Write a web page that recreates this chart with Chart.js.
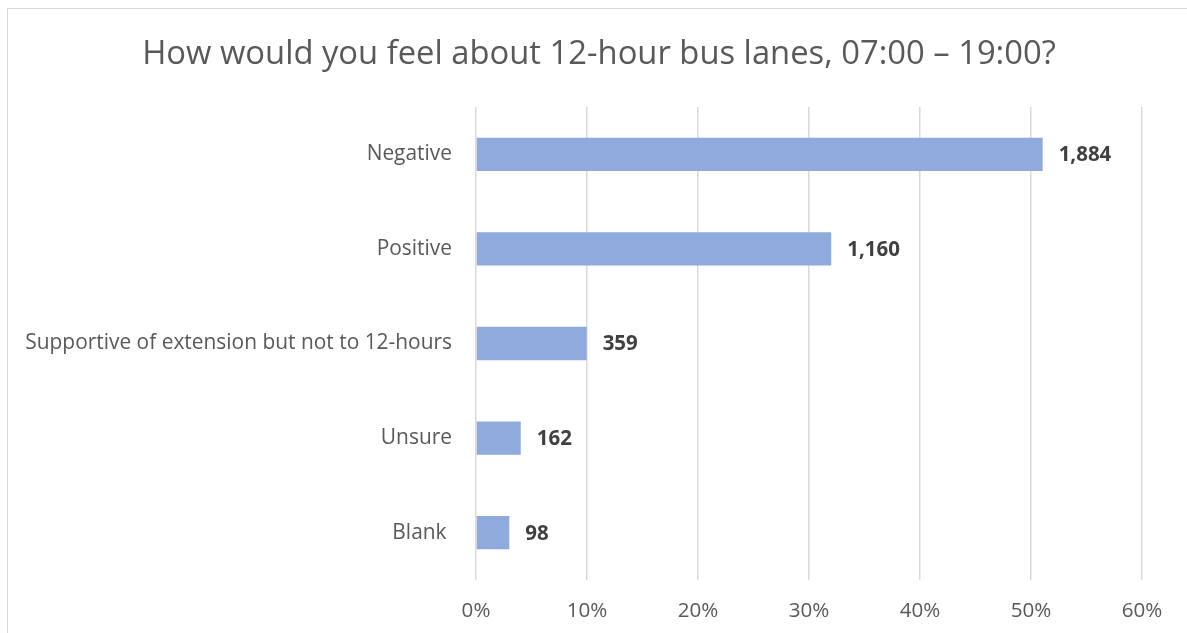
<!DOCTYPE html>
<html>
<head>
<meta charset="utf-8">
<script src="https://cdn.jsdelivr.net/npm/chart.js@4"></script>
<style>
  html, body { margin: 0; padding: 0; background: #ffffff; overflow: hidden; }
  #frame { position: absolute; left: 7px; top: 8px; width: 1300px; height: 800px; border: 1px solid #d9d9d9; box-sizing: border-box; }
  #wrap { position: absolute; left: 0; top: 0; width: 1187px; height: 633px; }
</style>
</head>
<body>
<div id="frame"></div>
<div id="wrap"><canvas id="c" width="1187" height="633"></canvas></div>
<script>
// ---- data ----
const titleText = "How would you feel about 12-hour bus lanes, 07:00 \u2013 19:00?";
const categories = ["Negative", "Positive", "Supportive of extension but not to 12-hours", "Unsure", "Blank "];
const percentValues = [51.05, 32.0, 9.97, 4.03, 3.0];
const countLabels = ["1,884", "1,160", "359", "162", "98"];
const xTicks = [0, 10, 20, 30, 40, 50, 60];

const FAMILY = "'Open Sans', 'Noto Sans', sans-serif";
const mctx = document.createElement('canvas').getContext('2d');
function fitSize(text, weight, target) {
  mctx.font = weight + ' 100px ' + FAMILY;
  return 100 * target / mctx.measureText(text).width;
}
const titleSize = fitSize(titleText, 'normal', 914);
const catSize = fitSize(categories[2], 'normal', 427);
const tickSize = fitSize('60%', 'normal', 40.6);
const valSize = fitSize('1,884', 'bold', 52.7);

const titlePlugin = {
  id: 'customTitle',
  afterDraw(chart) {
    const ctx = chart.ctx;
    ctx.save();
    ctx.font = 'normal ' + titleSize + 'px ' + FAMILY;
    ctx.fillStyle = '#595959';
    ctx.textAlign = 'center';
    ctx.textBaseline = 'alphabetic';
    ctx.fillText(titleText, 599, 63.5);
    ctx.restore();
  }
};

const valuePlugin = {
  id: 'valueLabels',
  afterDatasetsDraw(chart) {
    const ctx = chart.ctx;
    const meta = chart.getDatasetMeta(0);
    ctx.save();
    ctx.font = 'bold ' + valSize + 'px ' + FAMILY;
    ctx.fillStyle = '#404040';
    ctx.textAlign = 'left';
    ctx.textBaseline = 'middle';
    meta.data.forEach((bar, i) => {
      ctx.fillText(countLabels[i], bar.x + 16, bar.y + 1);
    });
    ctx.restore();
  }
};

new Chart(document.getElementById('c'), {
  type: 'bar',
  data: {
    labels: categories,
    datasets: [{
      data: percentValues,
      backgroundColor: '#8faadc',
      borderWidth: 0,
      categoryPercentage: 1.0,
      barPercentage: 0.352
    }]
  },
  options: {
    indexAxis: 'y',
    responsive: false,
    animation: false,
    layout: { padding: { left: 0, right: 45, top: 107, bottom: 0 } },
    plugins: {
      legend: { display: false },
      title: { display: false },
      tooltip: { enabled: false }
    },
    scales: {
      x: {
        min: 0, max: 60,
        afterBuildTicks(scale) { scale.ticks = xTicks.map(v => ({ value: v })); },
        afterFit(scale) { scale.height = 53; },
        grid: { display: true, color: '#d9d9d9', lineWidth: 1.5, drawTicks: false },
        border: { display: false },
        ticks: {
          padding: 19,
          color: '#595959',
          font: { family: FAMILY, size: tickSize },
          callback: v => v + '%',
          maxRotation: 0
        }
      },
      y: {
        afterFit(scale) { scale.width = 476; },
        grid: { display: false, drawTicks: false },
        border: { display: false },
        ticks: {
          padding: 24,
          color: '#595959',
          font: { family: FAMILY, size: catSize },
          autoSkip: false
        }
      }
    }
  },
  plugins: [titlePlugin, valuePlugin]
});
</script>
</body>
</html>
